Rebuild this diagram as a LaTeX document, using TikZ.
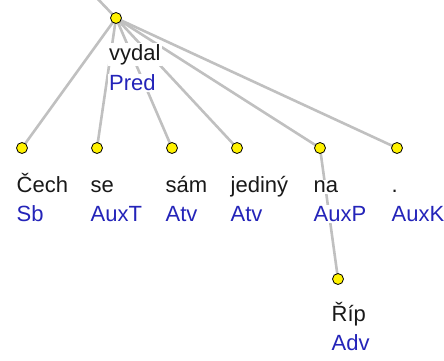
\documentclass[tikz,border=0pt]{standalone}
\usepackage{fontspec}
\setmainfont{Liberation Sans}
\definecolor{edgec}{RGB}{192,192,192}
\definecolor{tagc}{RGB}{36,36,185}
\definecolor{wordc}{RGB}{25,25,25}
\pgfdeclarelayer{bg}
\pgfsetlayers{bg,main}
\begin{document}
\begin{tikzpicture}[x=1pt,y=-1pt,
  tdot/.style={circle,draw=black,line width=0.8pt,fill=yellow,minimum size=11pt,inner sep=0pt},
  tedge/.style={draw=edgec,line width=2.6pt},
  wordlbl/.style={anchor=base west,fill=white,inner sep=1pt,text=wordc,font=\fontsize{22}{26}\selectfont},
  taglbl/.style={wordlbl,text=tagc}]
\useasboundingbox (0,0) rectangle (444,360);
\clip (0,0) rectangle (444,360);
\coordinate (up) at (94,-5);
% dots
\node[tdot] (root) at (116,18) {};
\node[tdot] (cech) at (22,148) {};
\node[tdot] (se) at (97,148) {};
\node[tdot] (sam) at (172,148) {};
\node[tdot] (jediny) at (237,148) {};
\node[tdot] (na) at (320,148) {};
\node[tdot] (tecka) at (397,148) {};
\node[tdot] (rip) at (338,279) {};
% edges
\begin{pgfonlayer}{bg}
\draw[tedge] (up) -- (root.center);
\foreach \c in {cech,se,sam,jediny,na,tecka}
  \draw[tedge] (root.center) -- (\c.center);
\draw[tedge] (na.center) -- (rip.center);
\end{pgfonlayer}
% labels
\node[wordlbl] (rootw) at (108,60) {vydal};
\node[taglbl] (roott) at (108,90.5) {Pred};
\node[wordlbl] (cechw) at (15.5,192.5) {Čech};
\node[taglbl] (checht) at (15.5,221.5) {Sb};
\node[wordlbl] (sew) at (89.5,192.5) {se};
\node[taglbl] (set) at (89.5,221.5) {AuxT};
\node[wordlbl] (samw) at (164.5,192.5) {sám};
\node[taglbl] (samt) at (164.5,221.5) {Atv};
\node[wordlbl] (jedinyw) at (229.5,192.5) {jediný};
\node[taglbl] (jedinyt) at (229.5,221.5) {Atv};
\node[wordlbl] (naw) at (312.5,192.5) {na};
\node[taglbl] (nat) at (312.5,221.5) {AuxP};
\node[wordlbl] (teckaw) at (390.5,192.5) {.};
\node[taglbl] (teckat) at (390.5,221.5) {AuxK};
\node[wordlbl] (ripw) at (330.5,321.5) {Říp};
\node[taglbl] (ript) at (330.5,350) {Adv};
\end{tikzpicture}
\end{document}
